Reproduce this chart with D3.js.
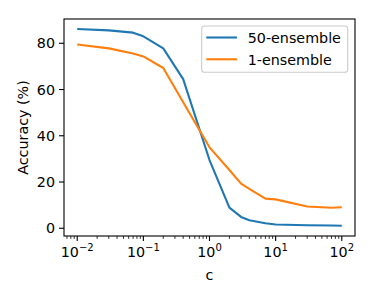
<!DOCTYPE html>
<html><head><meta charset="utf-8">
<script src="https://cdn.jsdelivr.net/npm/d3@7"></script>
<style>body{margin:0;background:#fff}svg{display:block}text{font-family:"DejaVu Sans",sans-serif;fill:#000}</style>
</head><body><svg id="c" width="374" height="301"></svg>
<script>
const cValues = [0.01, 0.03, 0.07, 0.1, 0.2, 0.4, 1, 2, 3, 4, 7, 10, 30, 70, 100];
const ensemble50 = [86.2, 85.6, 84.6, 83.0, 77.8, 64.5, 29.5, 8.9, 4.9, 3.5, 2.2, 1.6, 1.3, 1.2, 1.1];
const ensemble1 = [79.5, 77.8, 75.6, 74.3, 69.3, 54.5, 35.0, 25.2, 19.3, 17.0, 12.8, 12.5, 9.4, 8.9, 9.1];
const seriesNames = ["50-ensemble", "1-ensemble"];
const yTicks = [0, 20, 40, 60, 80];
const xTickExps = [-2, -1, 0, 1, 2];

const svg = d3.select("#c");
const L = 64, R = 355, T = 19, B = 236;
const fs = 14.3;
const x = d3.scaleLog().domain([Math.pow(10, -2.2), Math.pow(10, 2.2)]).range([L, R]);
const y = d3.scaleLinear().domain([-3.35, 90.5]).range([B, T]);

// minor ticks
const minors = [];
for (let e = -3; e <= 2; e++) for (let m = 2; m <= 9; m++) { const v = m * Math.pow(10, e); if (v >= x.domain()[0] && v <= x.domain()[1]) minors.push(v); }
svg.append("g").selectAll("line").data(minors).join("line")
  .attr("x1", d => x(d)).attr("x2", d => x(d)).attr("y1", B).attr("y2", B + 2.9)
  .attr("stroke", "#000").attr("stroke-width", 0.8);
// major x ticks
const gx = svg.append("g");
gx.selectAll("line").data(xTickExps).join("line")
  .attr("x1", d => x(Math.pow(10, d))).attr("x2", d => x(Math.pow(10, d))).attr("y1", B).attr("y2", B + 5)
  .attr("stroke", "#000").attr("stroke-width", 1.1);
const xt = gx.selectAll("text").data(xTickExps).join("text")
  .attr("x", d => x(Math.pow(10, d))).attr("y", 256.8).attr("text-anchor", "middle").attr("font-size", fs);
xt.append("tspan").text("10");
xt.append("tspan").attr("dy", -6).attr("font-size", fs * 0.7).text(d => d < 0 ? "\u2212" + (-d) : String(d));

// y ticks
const gy = svg.append("g");
gy.selectAll("line").data(yTicks).join("line")
  .attr("x1", L - 5).attr("x2", L).attr("y1", d => y(d)).attr("y2", d => y(d))
  .attr("stroke", "#000").attr("stroke-width", 1.1);
gy.selectAll("text").data(yTicks).join("text")
  .attr("x", L - 9).attr("y", d => y(d) + 5.2).attr("text-anchor", "end").attr("font-size", fs).text(d => d);

// lines
const line = d3.line().x((d, i) => x(cValues[i])).y(d => y(d));
const colors = ["#1f77b4", "#ff7f0e"];
[ensemble50, ensemble1].forEach((s, k) => {
  svg.append("path").datum(s).attr("d", line).attr("fill", "none")
    .attr("stroke", colors[k]).attr("stroke-width", 2.1).attr("stroke-linejoin", "round").attr("stroke-linecap", "butt");
});

// frame
svg.append("rect").attr("x", L).attr("y", T).attr("width", R - L).attr("height", B - T)
  .attr("fill", "none").attr("stroke", "#000").attr("stroke-width", 1.1);

// labels
svg.append("text").attr("x", (L + R) / 2).attr("y", 279.8).attr("text-anchor", "middle").attr("font-size", fs).text("c");
svg.append("text").attr("transform", `translate(27.7,${(T + B) / 2}) rotate(-90)`).attr("text-anchor", "middle").attr("font-size", fs).text("Accuracy (%)");

// legend
const lg = svg.append("g");
lg.append("rect").attr("x", 201.7).attr("y", 26).attr("width", 146).attr("height", 46.3).attr("rx", 2.8)
  .attr("fill", "#fff").attr("fill-opacity", 0.8).attr("stroke", "#cccccc").attr("stroke-width", 1.1);
seriesNames.forEach((n, k) => {
  const yy = 37.5 + k * 21.8;
  lg.append("line").attr("x1", 206.3).attr("x2", 237).attr("y1", yy).attr("y2", yy).attr("stroke", colors[k]).attr("stroke-width", 2.1);
  lg.append("text").attr("x", 247.7).attr("y", yy + 5.2).attr("font-size", fs).text(n);
});
</script></body></html>
